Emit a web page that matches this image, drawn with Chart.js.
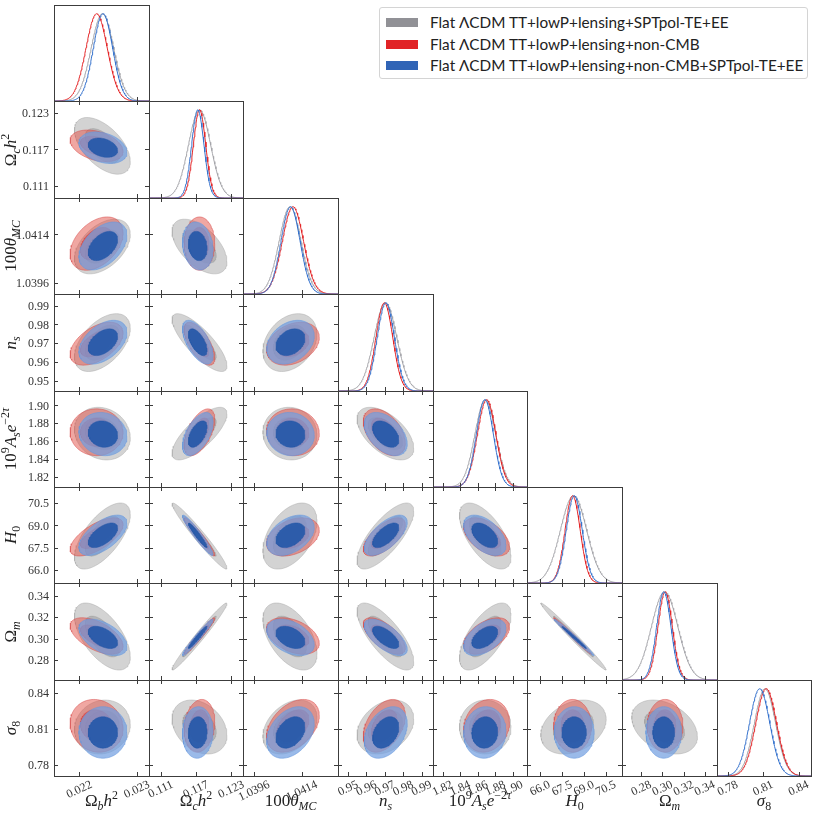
<!DOCTYPE html>
<html><head><meta charset="utf-8">
<script src="https://cdn.jsdelivr.net/npm/chart.js@4"></script>
<style>
html,body{margin:0;padding:0;background:#fff}
body{width:818px;height:818px;position:relative;overflow:hidden}
.pane{position:absolute}
.ttl{position:absolute;font-family:'Liberation Serif',serif;font-size:17px;line-height:20px;height:20px;color:#222;white-space:nowrap;transform:translate(-50%,-50%)}
.ttl.v{transform:translate(-50%,-50%) rotate(-90deg)}
.ttl sub,.ttl sup{font-size:70%;line-height:0}
#legend{position:absolute;left:379px;top:7px;width:427px;height:70px;border:1px solid #d4d4d4;border-radius:3px;background:#fff;font-family:'Lato',sans-serif;font-size:15.3px;color:#222}
#legend .row{position:absolute;left:0;height:20px;line-height:20px;white-space:nowrap}
#legend .sw{position:absolute;left:6px;top:6px;width:32px;height:9px}
#legend .tx{position:absolute;left:50px;top:0}
</style></head><body>
<script>
// ---------------- data ----------------
const paramLabels = [
  'Ω<sub><i>b</i></sub><i>h</i><sup>2</sup>',
  'Ω<sub><i>c</i></sub><i>h</i><sup>2</sup>',
  '100<i>θ</i><sub><i>MC</i></sub>',
  '<i>n</i><sub><i>s</i></sub>',
  '10<sup>9</sup><i>A</i><sub><i>s</i></sub><i>e</i><sup>−2<i>τ</i></sup>',
  '<i>H</i><sub>0</sub>',
  'Ω<sub><i>m</i></sub>',
  '<i>σ</i><sub>8</sub>'
];
const axisMin = [0.02156, 0.1090, 1.03918, 0.9445, 1.809, 65.1, 0.2617, 0.7709];
const axisMax = [0.02321, 0.1250, 1.04276, 0.9962, 1.916, 71.6, 0.3516, 0.8505];
const tickValues = [
  [0.022, 0.023],
  [0.111, 0.117, 0.123],
  [1.0396, 1.0414],
  [0.95, 0.96, 0.97, 0.98, 0.99],
  [1.82, 1.84, 1.86, 1.88, 1.90],
  [66.0, 67.5, 69.0, 70.5],
  [0.28, 0.30, 0.32, 0.34],
  [0.78, 0.81, 0.84]
];
const tickLabels = [
  ['0.022', '0.023'],
  ['0.111', '0.117', '0.123'],
  ['1.0396', '1.0414'],
  ['0.95', '0.96', '0.97', '0.98', '0.99'],
  ['1.82', '1.84', '1.86', '1.88', '1.90'],
  ['66.0', '67.5', '69.0', '70.5'],
  ['0.28', '0.30', '0.32', '0.34'],
  ['0.78', '0.81', '0.84']
];
const seriesNames = [
  'Flat ΛCDM TT+lowP+lensing+SPTpol-TE+EE',
  'Flat ΛCDM TT+lowP+lensing+non-CMB',
  'Flat ΛCDM TT+lowP+lensing+non-CMB+SPTpol-TE+EE'
];
// marginal means / standard deviations
const grayMean  = [0.02240, 0.1176, 1.04095, 0.9703, 1.8685, 68.28, 0.3020, 0.8115];
const graySigma = [0.000195, 0.00188, 0.00041, 0.0062, 0.0118, 0.90, 0.0125, 0.0090];
const redMean   = [0.02230, 0.1176, 1.04106, 0.9697, 1.8700, 68.22, 0.3025, 0.8125];
const redSigma  = [0.000185, 0.00105, 0.00040, 0.0046, 0.0105, 0.52, 0.0068, 0.0088];
const blueMean  = [0.02241, 0.1173, 1.04097, 0.9705, 1.8680, 68.33, 0.3012, 0.8070];
const blueSigma = [0.000168, 0.00105, 0.00036, 0.0047, 0.0097, 0.55, 0.0068, 0.0086];
// pairwise correlations, lower triangle: corr[row][col]
const grayCorr = [
  [],
  [-0.55],
  [0.45, -0.55],
  [0.50, -0.80, 0.30],
  [-0.15, 0.75, -0.05, -0.55],
  [0.65, -0.97, 0.45, 0.75, -0.62],
  [-0.60, 0.98, -0.50, -0.75, 0.65, -0.99],
  [0.10, -0.30, 0.35, 0.30, 0.00, 0.30, -0.35]
];
const redCorr = [
  [],
  [-0.35],
  [0.40, 0.00],
  [0.50, -0.65, 0.30],
  [0.00, 0.55, -0.05, -0.45],
  [0.65, -0.95, 0.35, 0.65, -0.50],
  [-0.55, 0.97, -0.40, -0.65, 0.50, -0.99],
  [-0.10, 0.15, 0.40, 0.40, 0.15, 0.00, 0.00]
];
const blueCorr = [
  [],
  [-0.30],
  [0.45, -0.15],
  [0.45, -0.60, 0.30],
  [-0.10, 0.55, -0.05, -0.45],
  [0.60, -0.95, 0.40, 0.65, -0.50],
  [-0.50, 0.97, -0.40, -0.65, 0.50, -0.99],
  [0.00, 0.05, 0.35, 0.35, 0.05, 0.00, 0.00]
];

// ---------------- styles ----------------
const seriesStyle = [
  {line:'rgb(165,165,170)', outer:'rgba(150,150,150,0.42)', inner:'rgba(120,120,122,0.35)', edge:'rgba(160,160,160,0.7)', swatch:'rgb(145,145,150)'},
  {line:'rgb(228,38,40)',   outer:'rgba(225,80,70,0.5)',   inner:'rgba(215,45,45,0.5)',  edge:'rgba(215,70,70,0.8)',  swatch:'rgb(225,35,38)'},
  {line:'rgb(55,115,205)',  outer:'rgba(115,160,225,0.72)', inner:'rgba(35,88,168,0.9)',  edge:'rgba(100,150,222,0.9)', swatch:'rgb(48,100,182)'}
];
const seriesData = [
  {mean: grayMean, sigma: graySigma, corr: grayCorr},
  {mean: redMean,  sigma: redSigma,  corr: redCorr},
  {mean: blueMean, sigma: blueSigma, corr: blueCorr}
];

const colEdges = [54, 149, 243, 338, 433, 527, 622, 717, 811];
const rowEdges = [5, 101, 198, 294, 391, 487, 583, 680, 776];
const R68 = Math.sqrt(2.296), R95 = Math.sqrt(6.18);

function contour(mx, my, sx, sy, rho, r) {
  const pts = [], n = 90, q = Math.sqrt(1 - rho * rho);
  for (let k = 0; k <= n; k++) {
    const t = 2 * Math.PI * k / n, a = Math.cos(t), b = Math.sin(t);
    pts.push({x: mx + r * sx * a, y: my + r * sy * (rho * a + q * b)});
  }
  return pts;
}
function marginal(m, s, lo, hi) {
  const pts = [], n = 160;
  for (let k = 0; k <= n; k++) {
    const x = lo + (hi - lo) * k / n;
    pts.push({x, y: Math.exp(-0.5 * ((x - m) / s) ** 2)});
  }
  return pts;
}

const framePlugin = {
  id: 'frame',
  afterDraw(chart, args, o) {
    const ctx = chart.ctx, {left, right, top, bottom} = chart.chartArea;
    const xs = chart.scales.x, ys = chart.scales.y, TL = 4;
    ctx.save();
    ctx.strokeStyle = '#3c3c3c'; ctx.lineWidth = 1;
    ctx.strokeRect(left + 0.5, top + 0.5, right - left, bottom - top);
    ctx.beginPath();
    for (const v of tickValues[o.c]) {
      const px = Math.round(xs.getPixelForValue(v)) + 0.5;
      ctx.moveTo(px, bottom); ctx.lineTo(px, bottom - TL);
      if (!o.diag) { ctx.moveTo(px, top); ctx.lineTo(px, top + TL); }
    }
    if (!o.diag) for (const v of tickValues[o.r]) {
      const py = Math.round(ys.getPixelForValue(v)) + 0.5;
      ctx.moveTo(left, py); ctx.lineTo(left + TL, py);
      ctx.moveTo(right, py); ctx.lineTo(right - TL, py);
    }
    ctx.stroke();
    ctx.fillStyle = '#333';
    ctx.font = '12px "Liberation Serif", serif';
    if (o.c === 0 && o.r > 0) {
      ctx.textAlign = 'right'; ctx.textBaseline = 'middle';
      tickValues[o.r].forEach((v, i) => ctx.fillText(tickLabels[o.r][i], left - 5, ys.getPixelForValue(v) + 1));
    }
    if (o.r === 7) {
      const ang = 25 * Math.PI / 180;
      ctx.textAlign = 'center'; ctx.textBaseline = 'middle';
      tickValues[o.c].forEach((v, i) => {
        const s = tickLabels[o.c][i], w = ctx.measureText(s).width, h = 9;
        const bh = w * Math.sin(ang) + h * Math.cos(ang);
        ctx.save();
        ctx.translate(xs.getPixelForValue(v), bottom + 4 + bh / 2);
        ctx.rotate(-ang);
        ctx.fillText(s, 0, 0);
        ctx.restore();
      });
    }
    ctx.restore();
  }
};

for (let r = 0; r < 8; r++) {
  for (let c = 0; c <= r; c++) {
    const diag = r === c;
    const padL = c === 0 ? 54 : 6, padB = r === 7 ? 40 : 6, padT = 6, padR = 6;
    const x0 = colEdges[c], x1 = colEdges[c + 1], y0 = rowEdges[r], y1 = rowEdges[r + 1];
    const div = document.createElement('div');
    div.className = 'pane';
    div.style.left = (x0 - padL) + 'px';
    div.style.top = (y0 - padT) + 'px';
    div.style.width = (x1 - x0 + padL + padR) + 'px';
    div.style.height = (y1 - y0 + padT + padB) + 'px';
    const cv = document.createElement('canvas');
    div.appendChild(cv);
    document.body.appendChild(div);

    const datasets = [];
    seriesData.forEach((s, i) => {
      const st = seriesStyle[i];
      if (diag) {
        datasets.push({data: marginal(s.mean[c], s.sigma[c], axisMin[c], axisMax[c]),
          borderColor: st.line, borderWidth: 1, pointRadius: 0, fill: false, order: 3 - i});
      } else {
        const args = [s.mean[c], s.mean[r], s.sigma[c], s.sigma[r], s.corr[r][c]];
        datasets.push({data: contour(...args, R95), borderColor: st.edge, borderWidth: 0.6,
          backgroundColor: st.outer, fill: 'shape', pointRadius: 0, order: 10 - 2 * i});
        datasets.push({data: contour(...args, R68), borderColor: st.inner, borderWidth: 0.6,
          backgroundColor: st.inner, fill: 'shape', pointRadius: 0, order: 9 - 2 * i});
      }
    });

    new Chart(cv, {
      type: 'line',
      data: {datasets},
      options: {
        responsive: true, maintainAspectRatio: false, animation: false, events: [],
        layout: {padding: {left: padL, right: padR, top: padT, bottom: padB}},
        elements: {line: {tension: 0}},
        scales: {
          x: {type: 'linear', display: false, min: axisMin[c], max: axisMax[c]},
          y: {type: 'linear', display: false, min: diag ? 0 : axisMin[r], max: diag ? 1.1 : axisMax[r]}
        },
        plugins: {legend: {display: false}, tooltip: {enabled: false}, frame: {r, c, diag}}
      },
      plugins: [framePlugin]
    });
  }
}

// axis titles
for (let i = 0; i < 8; i++) {
  const b = document.createElement('div');
  b.className = 'ttl';
  b.innerHTML = paramLabels[i];
  b.style.left = ((colEdges[i] + colEdges[i + 1]) / 2) + 'px';
  b.style.top = '801px';
  document.body.appendChild(b);
  if (i > 0) {
    const l = document.createElement('div');
    l.className = 'ttl v';
    l.innerHTML = paramLabels[i];
    l.style.left = '11px';
    l.style.top = ((rowEdges[i] + rowEdges[i + 1]) / 2) + 'px';
    document.body.appendChild(l);
  }
}

// legend
const lg = document.createElement('div');
lg.id = 'legend';
seriesNames.forEach((n, i) => {
  const row = document.createElement('div');
  row.className = 'row';
  row.style.top = (4 + i * 21.5) + 'px';
  row.innerHTML = '<span class="sw" style="background:' + seriesStyle[i].swatch + '"></span><span class="tx">' + n + '</span>';
  lg.appendChild(row);
});
document.body.appendChild(lg);
</script>
</body></html>
